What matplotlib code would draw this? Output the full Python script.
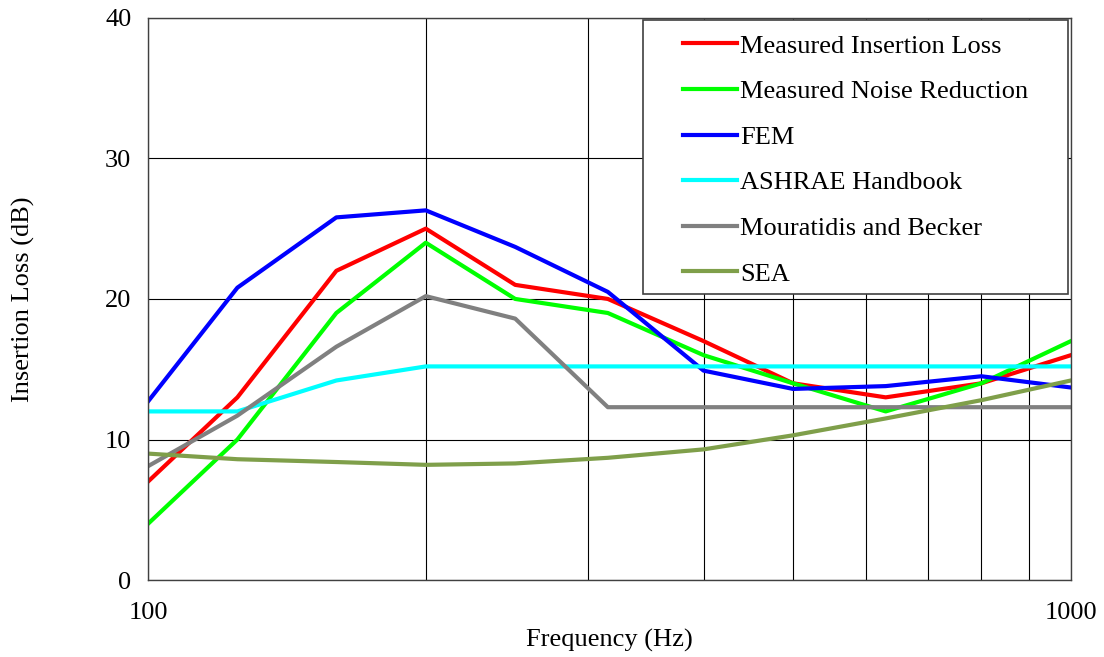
import matplotlib
matplotlib.use("Agg")
import matplotlib.pyplot as plt
from matplotlib.ticker import FixedLocator, NullFormatter, FixedFormatter
from matplotlib.patches import Rectangle

plt.rcParams['font.family'] = ['Liberation Serif', 'DejaVu Serif']

freq = [100, 125, 160, 200, 250, 315, 400, 500, 630, 800, 1000]

measured_il = [7, 13, 22, 25, 21, 20, 17, 14, 13, 14, 16]
measured_nr = [4, 10, 19, 24, 20, 19, 16, 14, 12, 14, 17]
fem = [12.7, 20.8, 25.8, 26.3, 23.7, 20.5, 14.9, 13.6, 13.8, 14.5, 13.7]
ashrae = [12.0, 12.0, 14.2, 15.2, 15.2, 15.2, 15.2, 15.2, 15.2, 15.2, 15.2]
mouratidis = [8.1, 11.7, 16.6, 20.2, 18.6, 12.3, 12.3, 12.3, 12.3, 12.3, 12.3]
sea = [9.0, 8.6, 8.4, 8.2, 8.3, 8.7, 9.3, 10.3, 11.5, 12.8, 14.2]

series = [
    ("Measured Insertion Loss", measured_il, "#ff0000"),
    ("Measured Noise Reduction", measured_nr, "#00ff00"),
    ("FEM", fem, "#0000ff"),
    ("ASHRAE Handbook", ashrae, "#00ffff"),
    ("Mouratidis and Becker", mouratidis, "#808080"),
    ("SEA", sea, "#7f9f4a"),
]

fig = plt.figure(figsize=(11.04, 6.57), dpi=100)
ax = fig.add_axes([0.134, 0.117, 0.836, 0.856])

for label, vals, color in series:
    ax.plot(freq, vals, color=color, lw=3, label=label)

ax.set_xscale('log')
ax.set_xlim(100, 1000)
ax.set_ylim(0, 40)
ax.xaxis.set_major_locator(FixedLocator([100, 1000]))
ax.xaxis.set_major_formatter(FixedFormatter(["100", "1000"]))
ax.xaxis.set_minor_locator(FixedLocator([200, 300, 400, 500, 600, 700, 800, 900]))
ax.xaxis.set_minor_formatter(NullFormatter())
ax.set_yticks([0, 10, 20, 30, 40])

ax.grid(True, which='both', axis='x', color='black', lw=0.8)
ax.grid(True, which='major', axis='y', color='black', lw=0.8)
ax.tick_params(which='both', length=0, labelsize=19)
ax.tick_params(axis='x', pad=16)
ax.tick_params(axis='y', pad=12)
for s in ax.spines.values():
    s.set_color('#404040')
    s.set_linewidth(1.0)

ax.set_xlabel("Frequency (Hz)", fontsize=19, labelpad=3)
ax.set_ylabel("Insertion Loss (dB)", fontsize=19, labelpad=50)

# excel-like legend box: wide side margins, tight top/bottom
ax.add_patch(Rectangle((0.536, 0.509), 0.461, 0.4875, transform=ax.transAxes,
                       facecolor='white', edgecolor='#404040', lw=1.2, zorder=4))
leg = ax.legend(loc='upper left', bbox_to_anchor=(0.5796, 0.971), fontsize=19,
                frameon=False, handlelength=2.05, handletextpad=0.11,
                labelspacing=0.84, borderpad=0, borderaxespad=0)
leg.set_zorder(5)

fig.savefig("out.png", dpi=100)
